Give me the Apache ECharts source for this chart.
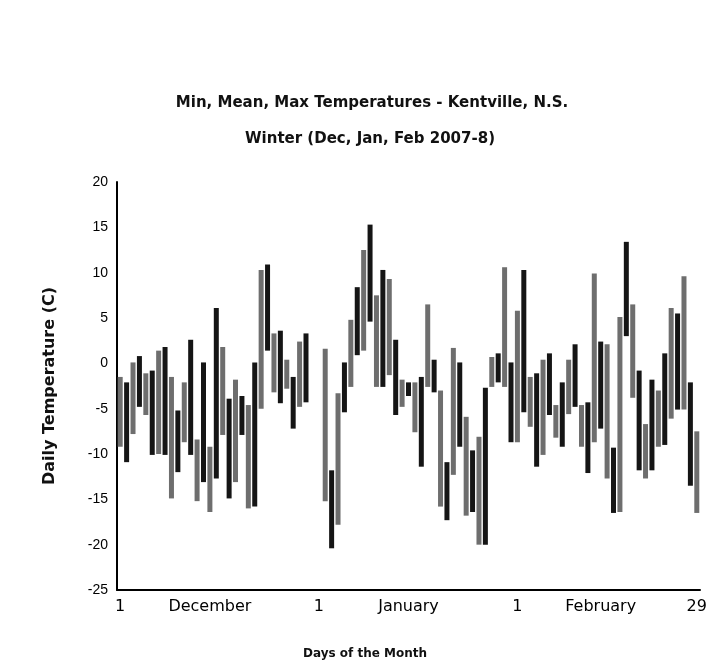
<!DOCTYPE html>
<html>
<head>
<meta charset="utf-8">
<script src="https://cdn.jsdelivr.net/npm/echarts@6/dist/echarts.min.js"></script>
<style>
html,body{margin:0;padding:0;background:#fff;}
#chart{width:713px;height:663px;}
</style>
</head>
<body>
<div id="chart"></div>
<script>
// Months and their day counts (Dec 2007, Jan 2008, Feb 2008)
const monthNames = ['December', 'January', 'February'];
const monthDays = [31, 31, 29];

// Daily maximum temperature (C), one per day, null = missing
const maxTemp = [
  -1.5, -2.1, 0.1, 0.8, -1.1, -0.8, 1.4, 1.8, -1.5, -5.2,
  -2.1, 2.6, -8.4, 0.1, -9.2, 6.1, 1.8, -3.9, -1.8, -3.6,
  -4.6, 0.1, 10.3, 10.9, 3.3, 3.6, 0.4, -1.5, 2.4, 3.3,
  null, null, 1.6, -11.8, -3.3, 0.1, 4.8, 8.4, 12.5, 15.3,
  7.5, 10.3, 9.3, 2.6, -1.8, -2.1, -2.1, -1.5, 6.5, 0.4,
  -3.0, -10.9, 1.7, 0.1, -5.9, -9.6, -8.1, -2.7, 0.7, 1.1,
  10.6, 0.1, 5.8, 10.3, -1.5, -1.1, 0.4, 1.1, -4.6, -2.1,
  0.4, 2.1, -4.6, -4.3, 9.9, 2.4, 2.1, -9.3, 5.1, 13.4,
  6.5, -0.8, -6.7, -1.8, -3.0, 1.1, 6.1, 5.5, 9.6, -2.1,
  -7.5
];
// Daily minimum temperature (C)
const minTemp = [
  -9.2, -10.9, -7.8, -4.8, -5.7, -10.1, -10.0, -10.1, -14.9, -12.0,
  -8.7, -10.1, -15.2, -13.1, -16.4, -12.7, -7.9, -14.9, -13.1, -7.9,
  -16.0, -15.8, -5.0, 1.4, -3.2, -4.4, -2.8, -7.2, -4.8, -4.3,
  null, null, -15.2, -20.4, -17.8, -5.4, -2.6, 0.9, 1.4, 4.6,
  -2.6, -2.6, -1.3, -5.7, -4.8, -3.6, -7.6, -11.4, -2.6, -3.2,
  -15.8, -17.3, -12.3, -9.2, -16.8, -16.4, -20.0, -20.0, -2.6, -2.1,
  -2.6, -8.7, -8.7, -5.4, -7.0, -11.4, -10.1, -5.7, -8.2, -9.2,
  -5.6, -4.8, -9.2, -12.1, -8.7, -7.2, -12.7, -16.5, -16.4, 3.0,
  -3.8, -11.8, -12.7, -11.8, -9.2, -9.0, -6.1, -5.1, -5.1, -13.5,
  -16.5
];

// X tick labels: category index -> text
const tickIndex = [0, 14, 31, 45, 62, 75, 90];
const tickText = ['1', 'December', '1', 'January', '1', 'February', '29'];

// Y axis ticks
const yMin = -25, yMax = 20, yStep = 5;

// Build categories (day of month)
const categories = [];
monthDays.forEach(function (n, m) {
  for (let d = 1; d <= n; d++) categories.push(monthNames[m] + ' ' + d);
});

const barData = [];
for (let i = 0; i < categories.length; i++) {
  if (maxTemp[i] != null && minTemp[i] != null) barData.push([i, maxTemp[i], minTemp[i]]);
}

const chart = echarts.init(document.getElementById('chart'), null, {renderer: 'canvas'});
chart.setOption({
  animation: false,
  backgroundColor: '#ffffff',
  title: [
    {text: 'Min, Mean, Max Temperatures - Kentville, N.S.', left: 367, top: 91, textAlign: 'center',
      textStyle: {fontFamily: 'DejaVu Sans', fontWeight: 'bold', fontSize: 15, color: '#111'}},
    {text: 'Winter (Dec, Jan, Feb 2007-8)', left: 365, top: 127, textAlign: 'center',
      textStyle: {fontFamily: 'DejaVu Sans', fontWeight: 'bold', fontSize: 15, color: '#111'}},
    {text: 'Days of the Month', left: 360, top: 643, textAlign: 'center',
      textStyle: {fontFamily: 'DejaVu Sans', fontWeight: 'bold', fontSize: 12, color: '#111'}}
  ],
  grid: {left: 117, right: 13, top: 182, bottom: 73, containLabel: false},
  xAxis: {
    type: 'category',
    data: categories,
    boundaryGap: true,
    axisLine: {show: true, onZero: false, lineStyle: {color: '#000', width: 2}},
    axisTick: {show: false},
    splitLine: {show: false},
    axisLabel: {
      interval: function (idx) { return tickIndex.indexOf(idx) >= 0; },
      formatter: function (v, idx) { const k = tickIndex.indexOf(idx); return k >= 0 ? tickText[k] : ''; },
      margin: 9,
      fontFamily: 'DejaVu Sans', fontSize: 16, color: '#000'
    }
  },
  yAxis: {
    type: 'value',
    min: yMin, max: yMax, interval: yStep,
    name: 'Daily Temperature (C)',
    nameLocation: 'middle',
    nameGap: 59,
    nameTextStyle: {fontFamily: 'DejaVu Sans', fontWeight: 'bold', fontSize: 16, color: '#111'},
    axisLine: {show: true, lineStyle: {color: '#000', width: 2}},
    axisTick: {show: false},
    splitLine: {show: false},
    axisLabel: {margin: 9, fontFamily: 'Liberation Sans', fontSize: 14, color: '#000'}
  },
  series: [{
    type: 'custom',
    data: barData,
    encode: {x: 0, y: [1, 2]},
    renderItem: function (params, api) {
      const i = api.value(0);
      const top = api.coord([i, api.value(1)]);
      const bot = api.coord([i, api.value(2)]);
      const w = 5;
      return {
        type: 'rect',
        shape: {x: top[0] - w / 2, y: top[1], width: w, height: bot[1] - top[1]},
        style: {fill: (i % 2) ? '#151515' : '#6e6e6e'}
      };
    }
  }]
});
</script>
</body>
</html>
